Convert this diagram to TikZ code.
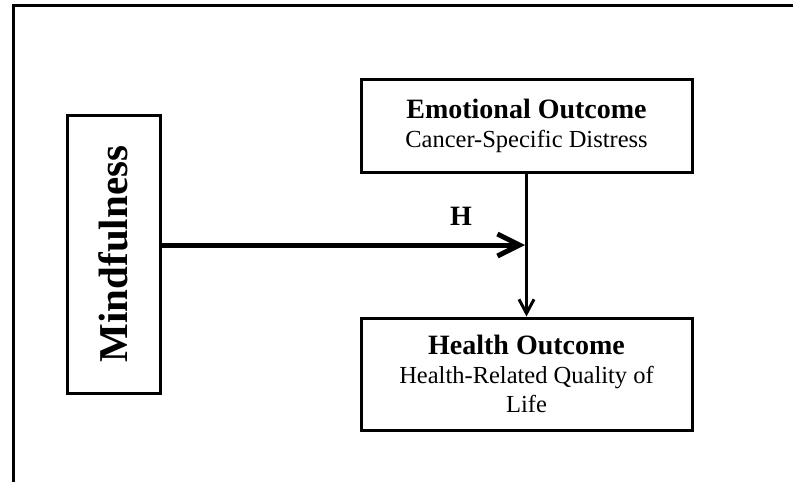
\documentclass[tikz,border=0pt]{standalone}
\usepackage{fontspec}
\setmainfont{Liberation Serif}
\usetikzlibrary{arrows.meta}
\begin{document}
\begin{tikzpicture}[x=1pt, y=-1pt,
    box/.style={draw, line width=3pt, inner sep=0pt},
    bigtxt/.style={font=\fontsize{28}{30}\selectfont\bfseries},
    subtxt/.style={font=\fontsize{24.5}{29}\selectfont}]
      \useasboundingbox (0,0) rectangle (793,482);
      \draw[line width=3pt] (13.5,482) -- (13.5,5.5) -- (793,5.5);
      \node[box, rotate=90, minimum width=278pt, minimum height=93pt,
            font=\fontsize{41}{44}\selectfont\bfseries] (mind) at (113.5,254) {Mindfulness};
      \node[box, subtxt, align=center, minimum width=331pt, minimum height=93pt] (emo) at (526.5,125.5)
            {{\fontsize{28}{30}\selectfont\bfseries Emotional Outcome}\\Cancer-Specific Distress};
      \node[box, subtxt, align=center, minimum width=331pt, minimum height=112pt] (hlth) at (526.5,374)
            {{\fontsize{28}{30}\selectfont\bfseries Health Outcome}\\Health-Related Quality of\\Life};
      \coordinate (hit) at (525,245);
      \draw[line width=5pt, -{Straight Barb[length=22pt, width=22pt]}] (mind.south |- hit) -- (hit);
      \node[bigtxt] (hlabel) at (461,216) {H};
      \draw[line width=3pt, -{Straight Barb[length=14pt, width=15pt]}] (emo.south) -- (hlth.north);
\end{tikzpicture}
\end{document}
